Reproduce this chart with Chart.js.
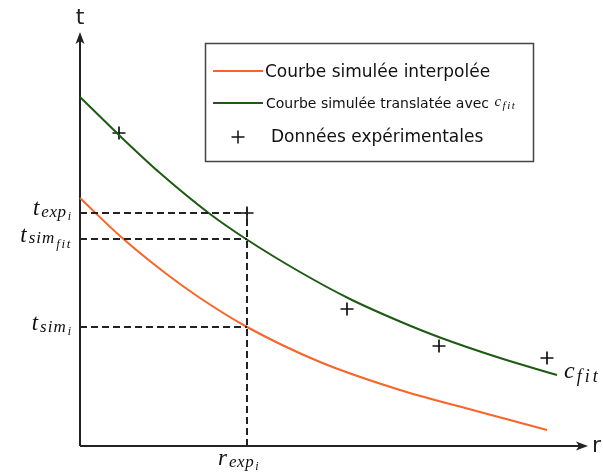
<!DOCTYPE html>
<html>
<head>
<meta charset="utf-8">
<script src="https://cdn.jsdelivr.net/npm/chart.js@4"></script>
<style>
    html, body { margin: 0; padding: 0; background: #fff; }
    #wrap { width: 603px; height: 473px; }
</style>
</head>
<body>
<div id="wrap"><canvas id="chart"></canvas></div>
<script>
// Courbe simulée interpolée (orange)
const simR = [0, 40, 80, 120, 167, 240, 320, 400, 467];
const simT = [248, 210, 177, 148, 119, 84, 56, 34, 16];

// Courbe simulée translatée avec c_fit (verte)
const fitR = [0, 40, 80, 130, 166, 220, 270, 320, 360, 420, 477];
const fitT = [349, 310, 273, 232, 207, 174, 147, 124.5, 108.5, 88, 71];

// Données expérimentales (+)
const expR = [39, 167, 267, 359, 467];
const expT = [313, 233, 137, 100, 88];

// Repères en pointillés
const rExpI = 167;
const tExpI = 233;
const tSimFit = 207;
const tSimI = 119;

const legendLabels = ['Courbe simulée interpolée', 'Courbe simulée translatée avec ', 'Données expérimentales'];

const ORANGE = '#fa6428';
const GREEN = '#1d5a12';
const INK = '#222';

const toXY = (xs, ys) => xs.map((x, i) => ({ x, y: ys[i] }));

// Texte mathématique : [texte, taille, décalage vertical, espacement]
function drawMath(ctx, parts, x, y, align) {
    const widthOf = p => {
        ctx.font = `italic ${p[1]}px "Liberation Serif", serif`;
        return ctx.measureText(p[0]).width + (p[3] || 0) * p[0].length + 1;
    };
    const w = parts.reduce((s, p) => s + widthOf(p), 0);
    let cx = align === 'right' ? x - w : x;
    parts.forEach(p => {
        ctx.font = `italic ${p[1]}px "Liberation Serif", serif`;
        for (const ch of p[0]) {
            ctx.fillText(ch, cx, y + p[2]);
            cx += ctx.measureText(ch).width + (p[3] || 0);
        }
        cx += 1;
    });
}

function drawArrow(ctx, x, y, angle) {
    ctx.save();
    ctx.translate(x, y);
    ctx.rotate(angle);
    ctx.beginPath();
    ctx.moveTo(0, 0);
    ctx.lineTo(-12, -4.5);
    ctx.lineTo(-9, 0);
    ctx.lineTo(-12, 4.5);
    ctx.closePath();
    ctx.fill();
    ctx.restore();
}

const axesPlugin = {
    id: 'axes',
    beforeDatasetsDraw(chart) {
        const { ctx, scales: { x, y } } = chart;
        const x0 = x.getPixelForValue(0);
        const y0 = y.getPixelForValue(0);
        const xEnd = x.getPixelForValue(x.max);
        const yEnd = y.getPixelForValue(y.max);
        ctx.save();
        ctx.strokeStyle = INK;
        ctx.fillStyle = INK;
        ctx.lineWidth = 2;
        ctx.beginPath();
        ctx.moveTo(x0, y0);
        ctx.lineTo(x0, yEnd + 6);
        ctx.moveTo(x0, y0);
        ctx.lineTo(xEnd - 6, y0);
        ctx.stroke();
        drawArrow(ctx, x0, yEnd, -Math.PI / 2);
        drawArrow(ctx, xEnd, y0, 0);

        ctx.font = '22px "DejaVu Sans", sans-serif';
        ctx.textAlign = 'center';
        ctx.textBaseline = 'alphabetic';
        ctx.fillText('t', x0, 24);
        ctx.textAlign = 'left';
        ctx.fillText('r', xEnd + 4, y0 + 6);
        ctx.restore();
    },
    afterDraw(chart) {
        const { ctx, scales: { x, y } } = chart;
        ctx.save();
        ctx.fillStyle = '#111';
        ctx.textAlign = 'left';
        ctx.textBaseline = 'alphabetic';

        // étiquettes des repères
        drawMath(ctx, [['t', 23, 0, 1], ['exp', 17, 2, 0.6], ['i', 12, 5, 1]], 73, y.getPixelForValue(tExpI) + 2, 'right');
        drawMath(ctx, [['t', 23, 0, 1], ['sim', 17, 1, 1], ['fit', 13, 6, 1.6]], 73, y.getPixelForValue(tSimFit) + 3, 'right');
        drawMath(ctx, [['t', 23, 0, 1], ['sim', 17, 2, 1], ['i', 12, 5, 1]], 73, y.getPixelForValue(tSimI) + 3, 'right');
        drawMath(ctx, [['r', 23, 0, 1], ['exp', 17, 2, 0.6], ['i', 12, 5, 1]], x.getPixelForValue(rExpI) - 29, 465, 'left');

        const last = fitR.length - 1;
        drawMath(ctx, [['c', 24, 0, 1], ['fit', 18, 4, 3]], x.getPixelForValue(fitR[last]) + 7, y.getPixelForValue(fitT[last]) + 3, 'left');

        // légende
        ctx.strokeStyle = '#444';
        ctx.lineWidth = 1.5;
        ctx.strokeRect(205.5, 43.5, 328, 118);

        ctx.lineWidth = 2;
        ctx.strokeStyle = ORANGE;
        ctx.beginPath(); ctx.moveTo(213, 71); ctx.lineTo(263, 71); ctx.stroke();
        ctx.strokeStyle = GREEN;
        ctx.beginPath(); ctx.moveTo(213, 103); ctx.lineTo(263, 103); ctx.stroke();
        ctx.strokeStyle = '#111';
        ctx.lineWidth = 1.5;
        ctx.beginPath();
        ctx.moveTo(231.5, 137); ctx.lineTo(244.5, 137);
        ctx.moveTo(238, 130.5); ctx.lineTo(238, 143.5);
        ctx.stroke();

        ctx.font = '17px "DejaVu Sans", sans-serif';
        ctx.fillText(legendLabels[0], 265, 77);
        ctx.font = '14px "DejaVu Sans", sans-serif';
        ctx.fillText(legendLabels[1], 266, 108);
        const w = ctx.measureText(legendLabels[1]).width;
        drawMath(ctx, [['c', 15, 0, 0.5], ['fit', 11, 3, 1.5]], 266 + w + 1, 106, 'left');
        ctx.font = '17px "DejaVu Sans", sans-serif';
        ctx.fillText(legendLabels[2], 271, 142);
        ctx.restore();
    }
};

const dashed = (pts) => ({
    data: pts,
    showLine: true,
    borderColor: INK,
    borderWidth: 2,
    borderDash: [7, 4],
    pointRadius: 0,
    clip: false
});

new Chart(document.getElementById('chart'), {
    type: 'scatter',
    data: {
        datasets: [
            dashed([{ x: 0, y: tExpI }, { x: rExpI, y: tExpI }]),
            dashed([{ x: 0, y: tSimFit }, { x: rExpI, y: tSimFit }]),
            dashed([{ x: 0, y: tSimI }, { x: rExpI, y: tSimI }]),
            dashed([{ x: rExpI, y: 0 }, { x: rExpI, y: tExpI + 6 }]),
            {
                label: legendLabels[0],
                data: toXY(simR, simT),
                showLine: true,
                borderColor: ORANGE,
                borderWidth: 2,
                pointRadius: 0,
                cubicInterpolationMode: 'monotone',
                clip: false
            },
            {
                label: legendLabels[1],
                data: toXY(fitR, fitT),
                showLine: true,
                borderColor: GREEN,
                borderWidth: 2,
                pointRadius: 0,
                cubicInterpolationMode: 'monotone',
                clip: false
            },
            {
                label: legendLabels[2],
                data: toXY(expR, expT),
                pointStyle: 'cross',
                pointRadius: 6.5,
                borderColor: '#111',
                backgroundColor: '#111',
                borderWidth: 1.7,
                clip: false
            }
        ]
    },
    options: {
        responsive: true,
        maintainAspectRatio: false,
        animation: false,
        devicePixelRatio: 1,
        layout: { padding: { left: 80, top: 32, right: 15, bottom: 27 } },
        scales: {
            x: { type: 'linear', min: 0, max: 508, display: false },
            y: { type: 'linear', min: 0, max: 414, display: false }
        },
        plugins: {
            legend: { display: false },
            tooltip: { enabled: false }
        },
        events: []
    },
    plugins: [axesPlugin]
});
</script>
</body>
</html>
